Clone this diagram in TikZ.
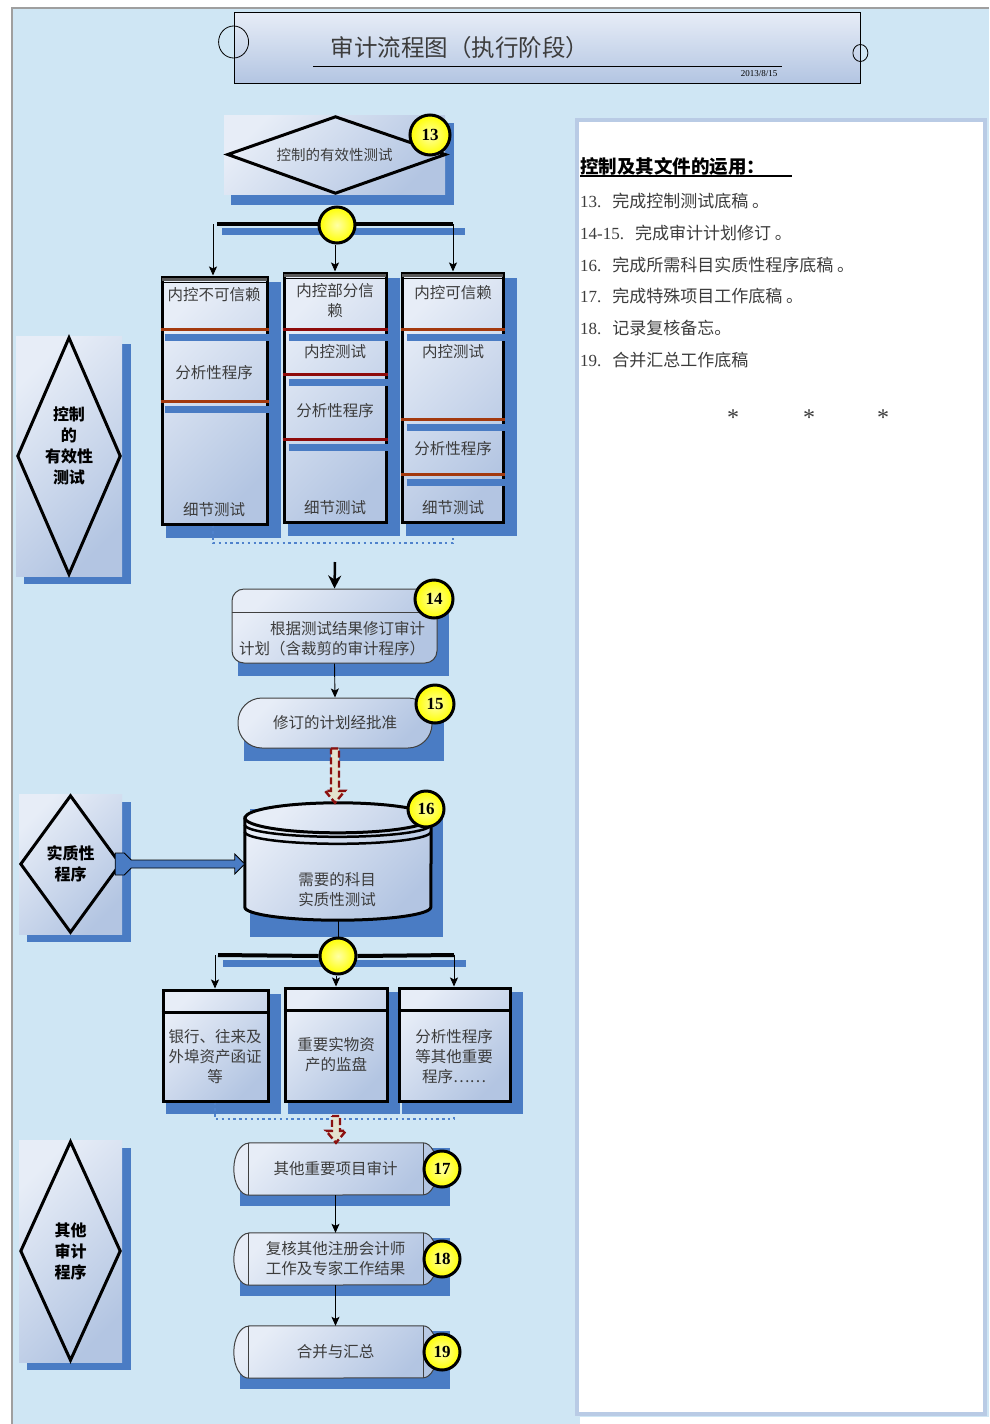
\documentclass[tikz,border=0pt]{standalone}
\usepackage{fontspec}
\setmainfont{Liberation Serif}
\newfontfamily\cjk{Noto Sans CJK SC}
\usepackage{tikz}
\usetikzlibrary{arrows.meta,calc,positioning}

\definecolor{bgblue}{HTML}{CFE6F4}
\definecolor{shblue}{HTML}{4A7CC4}
\definecolor{gtop}{HTML}{E7EDF7}
\definecolor{gbot}{HTML}{B3C5E2}
\definecolor{divbrown}{HTML}{A3390E}
\definecolor{divred}{HTML}{8E0B0B}
\definecolor{panelrim}{HTML}{B9CBE5}
\definecolor{txtgray}{HTML}{3C3C3C}
\definecolor{hollowred}{HTML}{8B1010}
\definecolor{hollowfill}{HTML}{E3E3CF}
\definecolor{dotblue}{HTML}{4F82CC}

\pgfdeclarelayer{back}
\pgfdeclarelayer{shade}
\pgfsetlayers{back,shade,main}

\tikzset{
  grad/.style={top color=gtop, bottom color=gbot, shading angle=45},
  colbox/.style={draw=black, line width=3pt, grad, inner sep=0pt},
  thinbox/.style={draw=black!75, line width=1pt, grad, inner sep=0pt},
  plainbox/.style={grad, inner sep=0pt},
  zh/.style={font=\cjk\fontsize{15.5}{20}\selectfont, text=txtgray, align=center, inner sep=0pt},
  zhbold/.style={font=\cjk\bfseries\fontsize{16}{21}\selectfont, text=black, align=center, inner sep=0pt},
  badge/.style={circle, draw=black, line width=3pt, inner color=yellow!35, outer color=yellow,
    minimum size=38pt, inner sep=0pt, font=\bfseries\fontsize{17}{17}\selectfont},
  branchdot/.style={circle, draw=black, line width=3pt, inner color=yellow!35, outer color=yellow, minimum size=36pt},
  link/.style={->, line width=0.9pt},
  bar/.style={line width=4pt},
  barshade/.style={shblue, line width=7pt},
  divider/.style={line width=3pt},
  dotline/.style={dotblue, line width=2.4pt, dash pattern=on 2.4pt off 3.4pt},
  hollow/.style={draw=hollowred, fill=hollowfill, line width=2.4pt, dash pattern=on 7pt off 3pt},
  fatstyle/.style={draw=black, fill=shblue, line width=0.8pt},
}

% hollow dashed arrow between two points
\newcommand\hollowarrow[2]{%
  \draw[hollow] let \p1=(#1), \p2=(#2) in
    (\x1-4,\y1) -- (\x1+4,\y1) -- (\x1+4,\y2+12) -- (\x1+10,\y2+12) -- (\x1,\y2)
    -- (\x1-10,\y2+12) -- (\x1-4,\y2+12) -- cycle;}
% fat blue arrow between two points
\newcommand\fatarrow[2]{%
  \draw[fatstyle] let \p1=(#1), \p2=(#2) in
    (\x1-7,\y1+11) -- (\x1+2,\y1+11) -- (\x1+9,\y1+4) -- (\x2-10,\y1+4) -- (\x2-10,\y1+10)
    -- (\x2,\y1) -- (\x2-10,\y1-10) -- (\x2-10,\y1-4) -- (\x1+9,\y1-4) -- (\x1+2,\y1-11)
    -- (\x1-7,\y1-11) -- cycle;}
% process box with round ends
\newcommand\procbox[1]{%
  \begin{pgfonlayer}{shade}
    \fill[shblue] ($(#1.north west)+(6,-5)$) rectangle ($(#1.south east)+(13,-11)$);
    \draw[black!75, line width=1pt, grad] ($(#1.north west)+(15,0)$) -- ($(#1.north east)+(-14,0)$)
      arc[start angle=90, end angle=-90, x radius=14, y radius=26] -- ($(#1.south west)+(15,0)$)
      arc[start angle=270, end angle=90, x radius=15, y radius=26] -- cycle;
    \draw[black!75, line width=1pt] ($(#1.north west)+(15,0)$) -- ($(#1.south west)+(15,0)$)
      ($(#1.north east)+(-14,0)$) -- ($(#1.south east)+(-14,0)$);
  \end{pgfonlayer}}

\begin{document}
\begin{tikzpicture}[>={Stealth[length=9pt,width=8pt,inset=2pt]},x=1pt,y=1pt]
  \useasboundingbox (0,0) rectangle (989,-1424);
  % Page
  \begin{pgfonlayer}{back}
    \fill[white] (0,0) rectangle (989,-1424);
    \fill[bgblue] (12,-8) rectangle (989,-1424);
    \fill[white] (580,-1417) rectangle (989,-1424);
    \draw[gray!75, line width=1.5pt] (12,-1424) -- (12,-8) -- (989,-8);
    \draw[panelrim, line width=4pt, fill=white] (577,-120) rectangle (985,-1414);
  \end{pgfonlayer}

  % Title
  \node[draw=black, line width=0.8pt, top color=gtop, bottom color=gbot, minimum width=626pt, minimum height=71pt] (title) at (547,-47.5) {};
  \draw[line width=0.8pt] ($(title.west)+(0,5.5)$) ellipse [x radius=15, y radius=16];
  \draw[line width=0.8pt] ($(title.east)+(0,-5.5)$) ellipse [x radius=7.5, y radius=8.5];
  \node[font=\cjk\fontsize{23.5}{24}\selectfont, text=txtgray, inner sep=0pt] (titletxt) at (460,-48) {审计流程图（执行阶段）};
  \draw[line width=0.8pt] (313,-66) -- (782,-66);
  \node[font=\fontsize{9}{9}\selectfont, inner sep=0pt] (date) at (759,-74) {2013/8/15};

  % Right panel
  \node[font=\cjk\bfseries\fontsize{18.5}{20}\selectfont, anchor=west, inner sep=0pt] (usehead) at (580,-166) {控制及其文件的运用：};
  \draw[line width=1.2pt] ($(usehead.base west)+(0,-3)$) -- ++(212,0);
  \foreach \itemno/\itemtext [count=\i] in {13./完成控制测试底稿 。, 14-15./完成审计计划修订 。,
      16./完成所需科目实质性程序底稿 。, 17./完成特殊项目工作底稿 。, 18./记录复核备忘。, 19./合并汇总工作底稿}
    \node[anchor=west, inner sep=0pt, font=\fontsize{17}{20}\selectfont, text=txtgray] (item\i)
      at (580,{-201-31.8*(\i-1)}) {\itemno\hspace{11pt}{\cjk\itemtext}};
  \foreach \x in {733,809,883}
    \node[font=\fontsize{24}{24}\selectfont, text=txtgray, inner sep=0pt] (star\x) at (\x,-418) {*};

  % Side diamonds
  \node[plainbox, minimum width=106pt, minimum height=240pt] (sideA) at (69,-456) {};
  \node[plainbox, zhbold, minimum width=103pt, minimum height=140pt] (sideB) at (70.5,-864) {实质性\\程序};
  \node[plainbox, zhbold, minimum width=103pt, minimum height=222pt] (sideC) at (70.5,-1251) {其他\\审计\\程序};
  \node[zhbold] (sideAtxt) at (69,-446) {控制\\的\\有效性\\测试};
  \foreach \side in {sideA,sideB,sideC} {
    \begin{pgfonlayer}{shade}
      \fill[shblue] ($(\side.north west)+(8,-8)$) rectangle ($(\side.south east)+(9,-8)$);
    \end{pgfonlayer}
    \draw[line width=3pt] ($(\side.north)+(0,-2)$) -- ($(\side.east)+(-2,0)$) -- ($(\side.south)+(0,2)$) -- ($(\side.west)+(2,0)$) -- cycle;
  }

  % Control test (13)
  \node[plainbox, font=\cjk\fontsize{14.5}{16}\selectfont, text=txtgray, minimum width=221pt, minimum height=79pt] (ctrl) at (334.5,-154.5) {控制的有效性测试};
  \begin{pgfonlayer}{shade}
    \fill[shblue] ($(ctrl.north west)+(7,-8)$) rectangle ($(ctrl.south east)+(9,-11)$);
  \end{pgfonlayer}
  \draw[line width=3pt] ($(ctrl.west)+(4,0)$) -- ($(ctrl.north)+(1,-2)$) -- (ctrl.east) -- ($(ctrl.south)+(1,1)$) -- cycle;
  \node[badge, minimum size=40pt] (b13) at (430,-135) {13};

  % First branch
  \coordinate (barL1) at (213,-224);
  \coordinate (barR1) at (453,-224);
  \begin{pgfonlayer}{shade}
    \draw[barshade] ($(barL1)+(9,-7.5)$) -- ($(barR1)+(12,-7.5)$);
  \end{pgfonlayer}
  \draw[bar] ($(barL1)+(4,0)$) -- (barR1);
  \node[branchdot] (br1) at (337,-225) {};

  % Columns
  \node[colbox, minimum width=105pt, minimum height=247pt] (colA) at (214.5,-400.5) {};
  \node[colbox, minimum width=102pt, minimum height=249pt] (colB) at (335,-397.5) {};
  \node[colbox, minimum width=101pt, minimum height=249pt] (colC) at (452.5,-397.5) {};
  \foreach \col in {colA,colB,colC} {
    \begin{pgfonlayer}{shade}
      \fill[shblue] ($(\col.north west)+(5,-6)$) rectangle ($(\col.south east)+(12,-12)$);
    \end{pgfonlayer}
    \draw[gray!70!black, line width=3pt] ($(\col.north west)+(1.5,-4)$) -- ($(\col.north east)+(-1.5,-4)$);
    \draw[line width=1.2pt] ($(\col.north west)+(0,-7)$) -- ($(\col.north east)+(0,-7)$);
  }
  \foreach \y in {329,401} {
    \draw[barshade] ($(colA.west |- 0,-\y)+(4,-8)$) -- ($(colA.east |- 0,-\y)+(1.5,-8)$);
    \draw[divider, divbrown] (colA.west |- 0,-\y) -- (colA.east |- 0,-\y);
  }
  \foreach \y in {329,374,439} {
    \draw[barshade] ($(colB.west |- 0,-\y)+(6,-8)$) -- ($(colB.east |- 0,-\y)+(2,-8)$);
    \draw[divider, divred] (colB.west |- 0,-\y) -- (colB.east |- 0,-\y);
  }
  \foreach \y in {329,419,474} {
    \draw[barshade] ($(colC.west |- 0,-\y)+(6,-8)$) -- ($(colC.east |- 0,-\y)+(2,-8)$);
    \draw[divider, divbrown] (colC.west |- 0,-\y) -- (colC.east |- 0,-\y);
  }
  \node[zh] (tA1) at (214,-295) {内控不可信赖};
  \node[zh] (tA2) at (214,-373) {分析性程序};
  \node[zh] (tA3) at (214,-510) {细节测试};
  \node[zh] (tB1) at (335,-301) {内控部分信\\赖};
  \node[zh] (tB2) at (335,-352) {内控测试};
  \node[zh] (tB3) at (335,-411) {分析性程序};
  \node[zh] (tB4) at (335,-508) {细节测试};
  \node[zh] (tC1) at (453,-293) {内控可信赖};
  \node[zh] (tC2) at (453,-352) {内控测试};
  \node[zh] (tC3) at (453,-449) {分析性程序};
  \node[zh] (tC4) at (453,-508) {细节测试};
  \draw[link] (barL1) -- (barL1 |- colA.north);
  \draw[link] (colB.north |- br1.south) -- (colB.north);
  \draw[link] (barR1) -- (barR1 |- colC.north);
  \coordinate (dotR1) at (453,-543);
  \draw[dotline] (colA.south -| barL1) -- (barL1 |- dotR1) -- (dotR1) -- ++(0,5);

  % Plan revision (14, 15)
  \node[thinbox, rounded corners=12pt, minimum width=205pt, minimum height=74pt] (adj) at (334.5,-626) {};
  \begin{pgfonlayer}{shade}
    \fill[shblue] ($(adj.north west)+(6,-9)$) rectangle ($(adj.south east)+(11,-12)$);
  \end{pgfonlayer}
  \draw[black!75, line width=1pt] ($(adj.north west)+(0,-24)$) -- ($(adj.north east)+(0,-24)$);
  \node[zh, align=left] (adjtxt) at (332,-638.5) {\hspace*{2em}根据测试结果修订审计\\计划（含裁剪的审计程序）};
  \coordinate (into14) at (335,-562);
  \draw[line width=2.5pt, -{Stealth[length=13pt,width=13pt]}] (into14) -- (adj.north);
  \node[badge] (b14) at (434,-599) {14};

  \node[thinbox, zh, rounded corners=24pt, minimum width=194pt, minimum height=50pt] (appr) at (335,-723) {修订的计划经批准};
  \begin{pgfonlayer}{shade}
    \fill[shblue] ($(appr.north west)+(6,-12)$) rectangle ($(appr.south east)+(11,-12)$);
  \end{pgfonlayer}
  \draw[link] (adj.south) -- (appr.north);
  \node[badge] (b15) at (435,-704) {15};

  % Substantive test (16)
  \node[minimum width=186pt, minimum height=117pt, inner sep=0pt] (drum) at (338,-861.5) {};
  \begin{pgfonlayer}{shade}
    \fill[shblue] ($(drum.north west)+(5,-6)$) rectangle ($(drum.south east)+(12,-17)$);
  \end{pgfonlayer}
  \draw[line width=3pt, grad] ($(drum.north west)+(0,-15)$) -- ($(drum.south west)+(0,13)$)
    arc[start angle=180, end angle=360, x radius=93, y radius=13] -- ($(drum.north east)+(0,-15)$)
    arc[start angle=0, end angle=180, x radius=93, y radius=15] -- cycle;
  \draw[line width=3pt] ($(drum.north west)+(0,-15)$) arc[start angle=180, end angle=360, x radius=93, y radius=15];
  \foreach \d in {22,29}
    \draw[line width=2.5pt] ($(drum.north west)+(0,-\d)$) arc[start angle=180, end angle=360, x radius=93, y radius=12];
  \node[zh] (drumtxt) at (337,-890) {需要的科目\\实质性测试};
  \hollowarrow{appr.south}{drum.north}
  \fatarrow{sideB.east}{drum.west |- sideB.east}
  \node[badge, minimum size=36pt] (b16) at (426,-809) {16};

  % Second branch
  \node[branchdot] (br2) at (338,-956) {};
  \draw[line width=1pt] (drum.south) -- (br2.north);
  \coordinate (barL2) at (215,-955);
  \coordinate (barR2) at (454,-955);
  \begin{pgfonlayer}{shade}
    \draw[barshade] ($(barL2)+(8,-8.5)$) -- ($(barR2)+(12,-8.5)$);
  \end{pgfonlayer}
  \draw[bar] ($(barL2)+(3,0)$) -- (br2.west);
  \draw[bar] (br2.east) -- (barR2);

  \node[colbox, minimum width=105pt, minimum height=111pt] (bank) at (215.5,-1045.5) {};
  \node[colbox, minimum width=102pt, minimum height=113pt] (stock) at (336,-1044.5) {};
  \node[colbox, minimum width=111pt, minimum height=113pt] (anal) at (454.5,-1044.5) {};
  \foreach \bx in {bank,stock,anal} {
    \begin{pgfonlayer}{shade}
      \fill[shblue] ($(\bx.north west)+(4,-5)$) rectangle ($(\bx.south east)+(11,-11)$);
    \end{pgfonlayer}
    \draw[line width=3pt] ($(\bx.north west)+(0,-24)$) -- ($(\bx.north east)+(0,-24)$);
  }
  \node[zh] (banktxt) at (215,-1057) {银行、往来及\\外埠资产函证\\等};
  \node[zh] (stocktxt) at (336,-1055) {重要实物资\\产的监盘};
  \node[zh] (analtxt) at (454,-1057) {分析性程序\\等其他重要\\程序……};
  \draw[link] (barL2) -- (barL2 |- bank.north);
  \draw[link] (stock.north |- br2.south) -- (stock.north);
  \draw[link] (barR2) -- (barR2 |- anal.north);
  \coordinate (dotR2) at (454,-1119);
  \draw[dotline] (bank.south -| barL2) -- (barL2 |- dotR2) -- (dotR2) -- ++(0,6);

  % Other procedures (17, 18, 19)
  \node[zh, minimum width=203pt, minimum height=52pt] (other) at (335.5,-1169) {其他重要项目审计};
  \node[zh, minimum width=203pt, minimum height=52pt] (review) at (335.5,-1259) {复核其他注册会计师\\工作及专家工作结果};
  \node[zh, minimum width=203pt, minimum height=52pt] (merge) at (335.5,-1352) {合并与汇总};
  \procbox{other}
  \procbox{review}
  \procbox{merge}
  \coordinate (from17) at (336,-1116);
  \hollowarrow{from17}{other.north}
  \draw[link] (other.south) -- (review.north);
  \draw[link] (review.south) -- (merge.north);
  \node[badge, minimum size=36pt] (b17) at (442,-1169) {17};
  \node[badge, minimum size=36pt] (b18) at (442,-1259) {18};
  \node[badge, minimum size=36pt] (b19) at (442,-1352) {19};
\end{tikzpicture}
\end{document}
